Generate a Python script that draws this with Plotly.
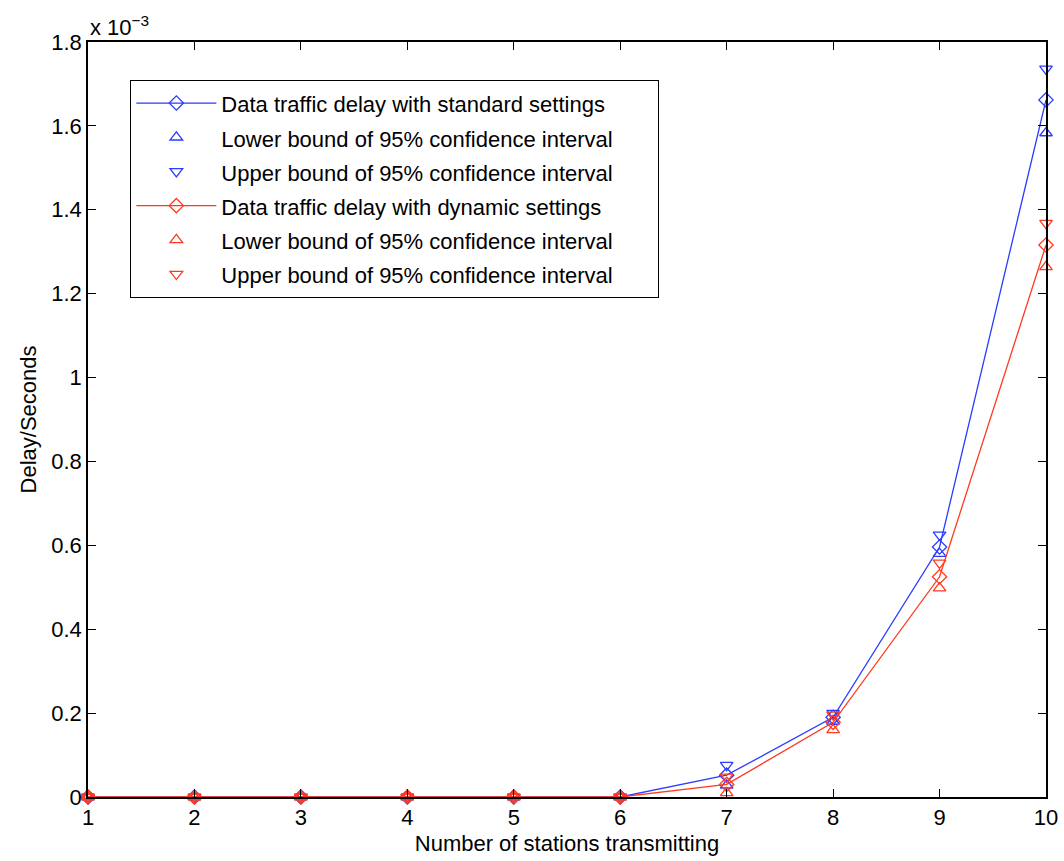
import plotly.graph_objects as go

# Data (delay in units of 1e-3 seconds)
stations = [1, 2, 3, 4, 5, 6, 7, 8, 9, 10]
std_mean = [0, 0, 0, 0, 0, 0, 0.052, 0.190, 0.596, 1.662]
std_lower = [0, 0, 0, 0, 0, 0, 0.028, 0.180, 0.580, 1.583]
std_upper = [0, 0, 0, 0, 0, 0, 0.076, 0.200, 0.625, 1.736]
dyn_mean = [0, 0, 0, 0, 0, 0, 0.030, 0.178, 0.525, 1.316]
dyn_lower = [0, 0, 0, 0, 0, 0, 0.010, 0.160, 0.498, 1.264]
dyn_upper = [0, 0, 0, 0, 0, 0, 0.048, 0.196, 0.558, 1.368]

names = [
    "Data traffic delay with standard settings",
    "Lower bound of 95% confidence interval",
    "Upper bound of 95% confidence interval",
    "Data traffic delay with dynamic settings",
    "Lower bound of 95% confidence interval",
    "Upper bound of 95% confidence interval",
]
y_ticks = [0, 0.2, 0.4, 0.6, 0.8, 1.0, 1.2, 1.4, 1.6, 1.8]
y_tick_text = ["0", "0.2", "0.4", "0.6", "0.8", "1", "1.2", "1.4", "1.6", "1.8"]

BLUE = "#2a3cff"
RED = "#ff3a1f"
MS = 11
FONT = "Liberation Sans, Arial, sans-serif"
FS = 22

fig = go.Figure()
series = [
    (std_mean, names[0], BLUE, "diamond-open", "lines+markers"),
    (std_lower, names[1], BLUE, "triangle-up-open", "markers"),
    (std_upper, names[2], BLUE, "triangle-down-open", "markers"),
    (dyn_mean, names[3], RED, "diamond-open", "lines+markers"),
    (dyn_lower, names[4], RED, "triangle-up-open", "markers"),
    (dyn_upper, names[5], RED, "triangle-down-open", "markers"),
]
for vals, nm, col, sym, mode in series:
    fig.add_trace(go.Scatter(
        x=stations, y=vals, mode=mode,
        name=f'<span style="font-size:{FS}px">{nm}</span>' + "&nbsp;" * 6,
        line=dict(color=col, width=1.3),
        marker=dict(symbol=sym, size=MS, color=col, line=dict(color=col, width=1.3)),
        cliponaxis=False,
    ))

axis_common = dict(
    showline=True, linecolor="black", linewidth=1.5, mirror="ticks",
    ticks="inside", ticklen=8, tickwidth=1, tickcolor="black",
    showgrid=False, zeroline=False, automargin=False,
    tickfont=dict(family=FONT, size=FS, color="black"),
)

fig.update_layout(
    width=1064, height=861,
    paper_bgcolor="white", plot_bgcolor="white",
    margin=dict(l=88, r=18, t=42, b=64),
    font=dict(family=FONT, size=FS, color="black"),
    xaxis=dict(range=[1, 10], tickvals=stations, **axis_common,
               title=dict(text="Number of stations transmitting", font=dict(size=FS), standoff=6)),
    yaxis=dict(range=[0, 1.8], tickvals=y_ticks, ticktext=y_tick_text, **axis_common,
               title=dict(text="Delay/Seconds", font=dict(size=FS), standoff=9)),
    legend=dict(
        x=0.044, y=0.95, xanchor="left", yanchor="top",
        bgcolor="white", bordercolor="black", borderwidth=1.2,
        font=dict(size=24), itemwidth=80, tracegroupgap=0,
    ),
    showlegend=True,
    annotations=[dict(
        x=0, y=1, xref="paper", yref="paper", xanchor="left", yanchor="bottom",
        text="x 10<sup>−3</sup>", showarrow=False, font=dict(size=FS), yshift=0,
    )],
)

fig.write_html(
    "out.html",
    config={"displayModeBar": False},
    post_script="document.body.style.margin='0';document.documentElement.style.overflow='hidden';",
)
